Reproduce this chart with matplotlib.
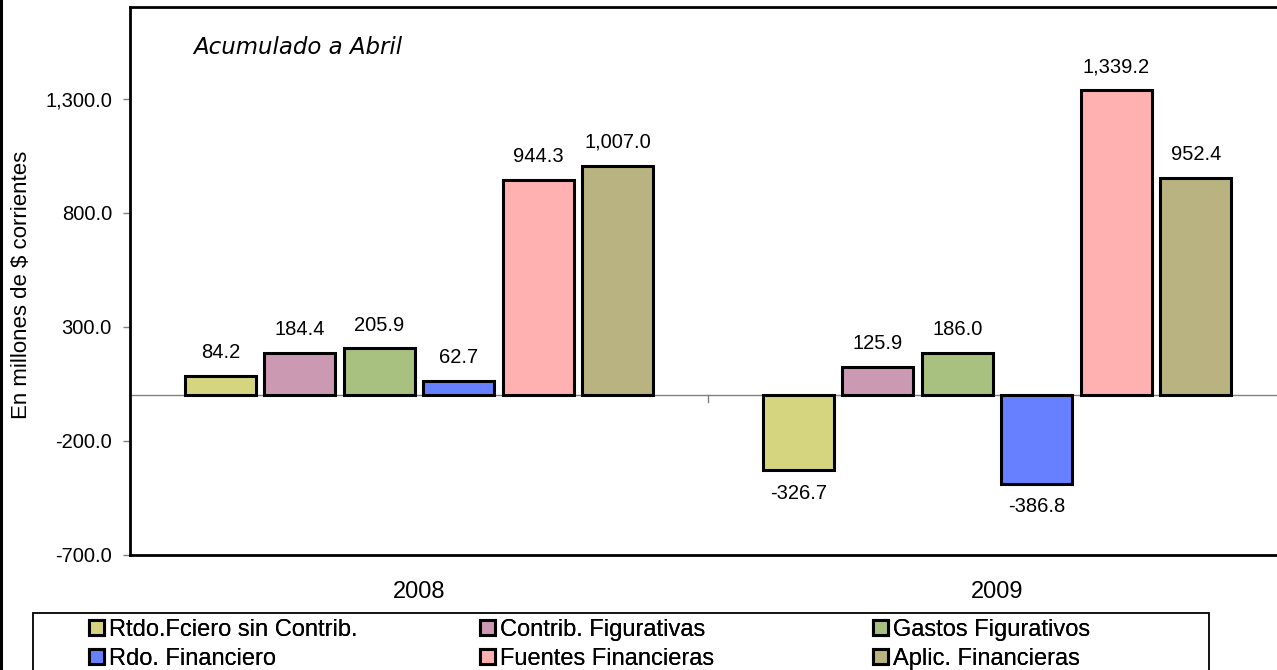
import matplotlib
matplotlib.use("Agg")
import matplotlib.pyplot as plt
from matplotlib.patches import Rectangle
import numpy as np

plt.rcParams['font.family'] = ['Liberation Sans', 'DejaVu Sans']

years = ["2008", "2009"]
series_names = ["Rtdo.Fciero sin Contrib.", "Contrib. Figurativas", "Gastos Figurativos",
                "Rdo. Financiero", "Fuentes Financieras", "Aplic. Financieras"]
rtdo_fciero = [84.2, -326.7]
contrib_fig = [184.4, 125.9]
gastos_fig = [205.9, 186.0]
rdo_financiero = [62.7, -386.8]
fuentes_fin = [944.3, 1339.2]
aplic_fin = [1007.0, 952.4]
series_values = [rtdo_fciero, contrib_fig, gastos_fig, rdo_financiero, fuentes_fin, aplic_fin]
colors = ["#D5D580", "#CC99B3", "#A8C080", "#6680FF", "#FFB0B0", "#B8B380"]
yticks = [-700, -200, 300, 800, 1300]

W, H = 1277, 670
fig = plt.figure(figsize=(W / 100, H / 100), dpi=100)
ax = fig.add_axes([130 / W, (H - 555) / H, 1156 / W, 548 / H])

x = np.arange(len(years))
pitch = 0.1375
width = 0.1223
containers = []
for i, (name, vals, c) in enumerate(zip(series_names, series_values, colors)):
    off = (i - 2.5) * pitch
    bc = ax.bar(x + off, vals, width, color=c, edgecolor="black", linewidth=2.2,
                label=name, zorder=3)
    containers.append(bc)
    ax.bar_label(bc, labels=[f"{v:,.1f}" for v in vals], padding=10, fontsize=14.5,
                 zorder=4)

ax.set_xlim(-0.5, 1.5)
ax.set_ylim(-700, 1703.5)
ax.set_yticks(yticks)
ax.set_yticklabels([f"{v:,.1f}" for v in yticks])
ax.tick_params(axis="y", direction="out", length=5, width=1, color="#808080",
               labelsize=14.5, pad=8)
ax.set_xticks([])

# zero line with category separator tick
ax.axhline(0, color="#808080", linewidth=1, zorder=2)
ax.plot([0.5, 0.5], [0, -30], color="#808080", linewidth=1, zorder=2, clip_on=False)

for s in ["left", "top", "bottom"]:
    ax.spines[s].set_linewidth(2)
    ax.spines[s].set_color("black")
ax.spines["right"].set_visible(False)

# year labels below plot
for xi, yr in zip(x, years):
    ax.annotate(yr, xy=(xi, 0), xycoords=("data", "axes fraction"),
                xytext=(0, -37), textcoords="offset pixels", ha="center", va="center",
                fontsize=17)

ax.text((193 - 130) / 1156, (555 - 47) / 548, "Acumulado a Abril",
        transform=ax.transAxes, fontsize=16.5, style="italic", family="DejaVu Sans",
        ha="left", va="center")

fig.text(22 / W, 1 - 285 / H, "En millones de $ corrientes", rotation=90,
         ha="center", va="center", fontsize=16)

# left black strip
fig.patches.append(Rectangle((0, 0), 3 / W, 1, transform=fig.transFigure,
                             facecolor="black", edgecolor="none"))

# legend frame
fig.patches.append(Rectangle((33 / W, -0.05), (1209 - 33) / W, (H - 613) / H + 0.05,
                             transform=fig.transFigure, facecolor="none",
                             edgecolor="black", linewidth=1.3))

cols = [(94, [0, 3]), (485, [1, 4]), (878, [2, 5])]
for xpx, idxs in cols:
    leg = fig.legend([containers[i] for i in idxs], [series_names[i] for i in idxs],
                     loc="upper left", bbox_to_anchor=(xpx / W - 0.004, 1 - 619 / H),
                     frameon=False, fontsize=17, handlelength=0.62, handleheight=0.62,
                     handletextpad=0.25, labelspacing=0.29, borderpad=0.0,
                     borderaxespad=0.0)
    fig.add_artist(leg)

fig.savefig("out.png", dpi=100)
